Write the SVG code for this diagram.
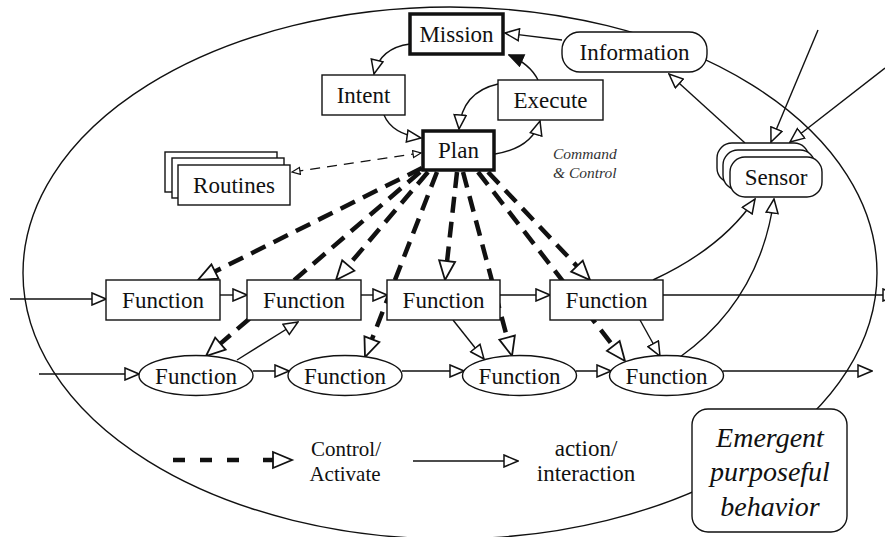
<svg xmlns="http://www.w3.org/2000/svg" width="885" height="537" viewBox="0 0 885 537">
<defs>
<marker id="oa" viewBox="0 0 16 14" markerWidth="16" markerHeight="14" refX="15" refY="7" orient="auto" markerUnits="userSpaceOnUse"><path d="M1,1 L15,7 L1,13 z" fill="#fff" stroke="#111" stroke-width="1.5"/></marker>
<marker id="ob" viewBox="0 0 20 18" markerWidth="20" markerHeight="18" refX="0" refY="9" orient="auto" markerUnits="userSpaceOnUse" overflow="visible"><path d="M0,1 L19,9 L0,17 z" fill="#fff" stroke="#111" stroke-width="1.8" stroke-dasharray="none"/></marker>
<marker id="os" viewBox="0 0 10 9" markerWidth="10" markerHeight="9" refX="9" refY="4.5" orient="auto-start-reverse" markerUnits="userSpaceOnUse"><path d="M1,1 L9,4.5 L1,8 z" fill="#fff" stroke="#111" stroke-width="1.2" stroke-dasharray="none"/></marker>
<marker id="fa" viewBox="0 0 16 14" markerWidth="16" markerHeight="14" refX="15" refY="7" orient="auto" markerUnits="userSpaceOnUse"><path d="M1,1 L15,7 L1,13 z" fill="#111" stroke="#111" stroke-width="1.5"/></marker>
</defs>
<style>
.box{fill:#fff;stroke:#111;stroke-width:1.4}
.thick{fill:#fff;stroke:#111;stroke-width:3.5}
.lbl{font-family:"Liberation Serif","Times New Roman","DejaVu Serif",serif;font-size:23px;fill:#111;text-anchor:middle}
.ln{fill:none;stroke:#111;stroke-width:1.4}
.dl{fill:none;stroke:#111;stroke-width:4.5;stroke-dasharray:16 9}
.it{font-family:"Liberation Serif","Times New Roman","DejaVu Serif",serif;font-style:italic;fill:#111;text-anchor:middle}
.sm{font-family:"Liberation Serif","Times New Roman","DejaVu Serif",serif;font-size:21px;fill:#111;text-anchor:middle}
</style>
<rect width="885" height="537" fill="#fff"/>
<ellipse id="system-boundary" cx="450" cy="273" rx="427" ry="266" fill="none" stroke="#111" stroke-width="1.4"/>

<g id="connectors">
  <path class="dl" d="M422,168 L215,271.5" marker-end="url(#ob)"/>
  <path class="dl" d="M420,172 L220.4,343.6" marker-end="url(#ob)"/>
  <path class="dl" d="M428,172 L348.3,265.5" marker-end="url(#ob)"/>
  <path class="dl" d="M437,172 L371.9,339.3" marker-end="url(#ob)"/>
  <path class="dl" d="M457,172 L447.1,261.1" marker-end="url(#ob)"/>
  <path class="dl" d="M463,172 L507.1,337.6" marker-end="url(#ob)"/>
  <path class="dl" d="M478,172 L613.3,346" marker-end="url(#ob)"/>
  <path class="dl" d="M488,172 L577,266.2" marker-end="url(#ob)"/>
  <path d="M421,153 L292,172" fill="none" stroke="#111" stroke-width="1.3" stroke-dasharray="10 7" marker-start="url(#os)" marker-end="url(#os)"/>
  <path class="ln" d="M410,44 Q380,48 374,74" marker-end="url(#oa)"/>
  <path class="ln" d="M384,115 Q392,134 421,138" marker-end="url(#oa)"/>
  <path class="ln" d="M498,84 Q462,92 459,129" marker-end="url(#oa)"/>
  <path class="ln" d="M495,154 Q532,148 540,121" marker-end="url(#oa)"/>
  <path class="ln" d="M538,80 Q530,64 509,55" marker-end="url(#fa)"/>
  <path class="ln" d="M562,40 L505,33" marker-end="url(#oa)"/>
  <path class="ln" d="M745,143 L669,74" stroke-width="2" marker-end="url(#oa)"/>
  <path class="ln" d="M818,30 L771,142" marker-end="url(#oa)"/>
  <path class="ln" d="M885,68 L790,142" marker-end="url(#oa)"/>
  <path class="ln" d="M653,280 Q722,248 755,199" marker-end="url(#oa)"/>
  <path class="ln" d="M680,357 Q760,300 774,199" marker-end="url(#oa)"/>
  <path class="ln" d="M10,299 L106,299" marker-end="url(#oa)"/>
  <path class="ln" d="M220,295 L247,295" marker-end="url(#oa)"/>
  <path class="ln" d="M361,295 L387,295" marker-end="url(#oa)"/>
  <path class="ln" d="M500,295 L550,295" marker-end="url(#oa)"/>
  <path class="ln" d="M663,295 L897,295" marker-end="url(#oa)"/>
  <path class="ln" d="M39,374 L139,374" marker-end="url(#oa)"/>
  <path class="ln" d="M253,371 L289,371" marker-end="url(#oa)"/>
  <path class="ln" d="M402,371 L464,371" marker-end="url(#oa)"/>
  <path class="ln" d="M576,371 L611,371" marker-end="url(#oa)"/>
  <path class="ln" d="M723,371 L872,371" marker-end="url(#oa)"/>
  <path class="ln" d="M237,360 L298,322" marker-end="url(#oa)"/>
  <path class="ln" d="M453,320 L484,359" marker-end="url(#oa)"/>
  <path class="ln" d="M640,320 L660,356" marker-end="url(#oa)"/>
</g>

<g id="mission"><rect class="thick" x="410" y="14" width="93" height="40"/><text class="lbl" x="456.5" y="42">Mission</text></g>
<g id="intent"><rect class="box" x="322" y="75" width="83" height="40"/><text class="lbl" x="363.5" y="103">Intent</text></g>
<g id="execute"><rect class="box" x="498" y="80" width="105" height="40"/><text class="lbl" x="550.5" y="108">Execute</text></g>
<g id="plan"><rect class="thick" x="423" y="131" width="71" height="39"/><text class="lbl" x="458.5" y="158">Plan</text></g>
<g id="information"><rect class="box" x="562" y="32" width="145" height="40" rx="18"/><text class="lbl" x="634.5" y="60">Information</text></g>
<g id="sensor">
  <rect class="box" x="717" y="143" width="92" height="40" rx="15"/>
  <rect class="box" x="723" y="150" width="92" height="40" rx="15"/>
  <rect class="box" x="730" y="157" width="92" height="40" rx="15"/>
  <text class="lbl" x="776" y="185">Sensor</text>
</g>
<g id="routines">
  <rect class="box" x="165" y="152" width="112" height="40"/>
  <rect class="box" x="172" y="158" width="112" height="40"/>
  <rect class="box" x="178" y="165" width="112" height="40"/>
  <text class="lbl" x="234" y="193">Routines</text>
</g>
<g id="command-control-label" font-family="Liberation Serif, Times New Roman, DejaVu Serif, serif" font-style="italic" font-size="15.5" fill="#333">
  <text x="553" y="159">Command</text>
  <text x="553" y="178">&amp; Control</text>
</g>

<g id="function-1"><rect class="box" x="106" y="280" width="114" height="40"/><text class="lbl" x="163" y="308">Function</text></g>
<g id="function-2"><rect class="box" x="247" y="280" width="114" height="40"/><text class="lbl" x="304" y="308">Function</text></g>
<g id="function-3"><rect class="box" x="387" y="280" width="113" height="40"/><text class="lbl" x="443.5" y="308">Function</text></g>
<g id="function-4"><rect class="box" x="550" y="280" width="113" height="40"/><text class="lbl" x="606.5" y="308">Function</text></g>

<g id="function-e1"><ellipse class="box" cx="196" cy="375.5" rx="57" ry="20"/><text class="lbl" x="196" y="384">Function</text></g>
<g id="function-e2"><ellipse class="box" cx="345" cy="375.5" rx="57" ry="20"/><text class="lbl" x="345" y="384">Function</text></g>
<g id="function-e3"><ellipse class="box" cx="519.5" cy="375.5" rx="57" ry="20"/><text class="lbl" x="519.5" y="384">Function</text></g>
<g id="function-e4"><ellipse class="box" cx="666.5" cy="375.5" rx="57" ry="20"/><text class="lbl" x="666.5" y="384">Function</text></g>

<g id="emergent"><rect class="box" x="692" y="409" width="155" height="123" rx="16"/>
  <text class="it" x="770" y="447" font-size="28">Emergent</text>
  <text class="it" x="770" y="481" font-size="28">purposeful</text>
  <text class="it" x="770" y="516" font-size="28">behavior</text>
</g>

<g id="legend">
  <path d="M173,460 L273,460" fill="none" stroke="#111" stroke-width="4.5" stroke-dasharray="12 15 12 15 12 24 10 50" marker-end="url(#ob)"/>
  <text class="sm" x="346" y="456">Control/</text>
  <text class="sm" x="345" y="481">Activate</text>
  <path class="ln" d="M413,461 L518,461" marker-end="url(#oa)"/>
  <text class="lbl" x="586" y="456">action/</text>
  <text class="lbl" x="586" y="481">interaction</text>
</g>
</svg>
